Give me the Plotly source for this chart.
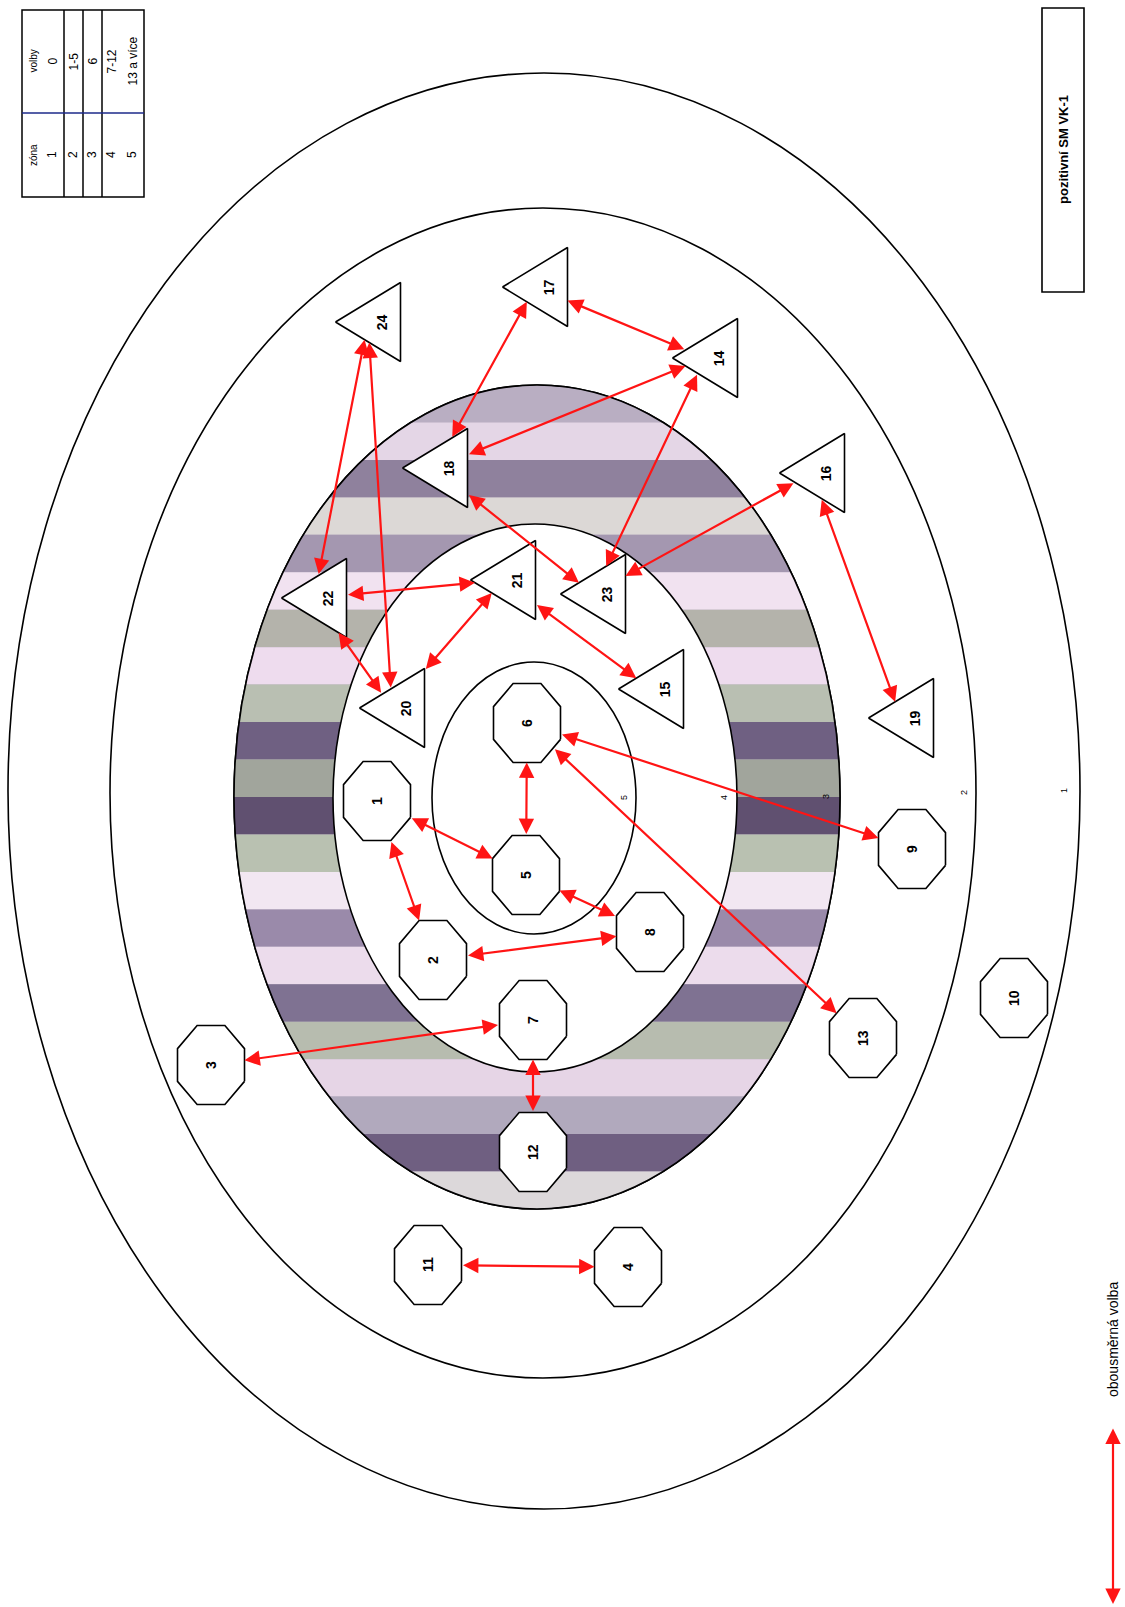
import numpy as np
import plotly.graph_objects as go

W, H = 1125, 1607

# ---------------- data ----------------
node_ids = [1, 2, 3, 4, 5, 6, 7, 8, 9, 10, 11, 12, 13,
            14, 15, 16, 17, 18, 19, 20, 21, 22, 23, 24]
node_shape = ["oct"] * 13 + ["tri"] * 11
node_x = [377, 433, 211, 628, 526, 527, 533, 650, 912, 1014, 428, 533, 863,
          705, 651, 812, 535, 435, 901, 392, 503, 314, 593, 368]
node_y = [801, 960, 1065, 1267, 875, 723, 1020, 932, 849, 998, 1265, 1152, 1038,
          358, 689, 473, 287, 468, 718, 708, 580, 598, 594, 322]

# mutual choices (obousměrné volby)
edge_a = [11, 12, 7, 2, 8, 1, 1, 5, 6, 6, 20, 20, 20, 22, 22, 21, 16, 16, 18, 18, 18, 14, 14]
edge_b = [4, 7, 3, 8, 5, 2, 5, 6, 9, 13, 21, 22, 24, 21, 24, 15, 19, 23, 23, 17, 14, 17, 23]

# zones (1 = outermost ... 5 = centre)
zone_names = ["1", "2", "3", "4", "5"]
zone_cx = [544, 543, 537, 535, 534]
zone_cy = [791, 793, 797, 798, 798]
zone_rx = [536, 433, 303, 202, 102]
zone_ry = [718, 585, 412, 274, 136]
zone_label_x = [1064, 964, 826, 724, 624]

table_zone = ["1", "2", "3", "4", "5"]
table_votes = ["0", "1-5", "6", "7-12", "13 a více"]

title_text = "pozitivní SM VK-1"
legend_text = "obousměrná volba"

# ---------------- styles ----------------
OCT_W, OCT_H = 67, 79
TRI_W, TRI_H = 65, 79
RED = "#ff1414"
FONT = "Liberation Sans, Arial, sans-serif"

ring_colors = ["#b9aec2", "#e4d6e6", "#8f819d", "#dcd8d6", "#a497b0", "#f1e2f0",
               "#b4b3ab", "#eedcee", "#b9bfb2", "#6f6082", "#a1a59c", "#605070",
               "#b9c1b1", "#f2e7f2", "#9a8aaa", "#ecdcec", "#7f7292", "#b7bcaf",
               "#e6d5e6", "#b1a9bd", "#6f5f81", "#dcd8da"]


def polygon(shape, cx, cy):
    if shape == "oct":
        a = np.deg2rad(22.5 + 45 * np.arange(8))
        xs = np.cos(a)
        ys = np.sin(a)
        xs = cx + xs * (OCT_W / 2) / np.max(np.abs(xs))
        ys = cy + ys * (OCT_H / 2) / np.max(np.abs(ys))
    else:
        xs = np.array([cx - TRI_W / 2, cx + TRI_W / 2, cx + TRI_W / 2])
        ys = np.array([cy, cy - TRI_H / 2, cy + TRI_H / 2])
    return list(xs), list(ys)


def exit_point(shape, cx, cy, tx, ty):
    xs, ys = polygon(shape, cx, cy)
    n = len(xs)
    dx, dy = tx - cx, ty - cy
    best = None
    for i in range(n):
        x1, y1 = xs[i], ys[i]
        x2, y2 = xs[(i + 1) % n], ys[(i + 1) % n]
        ex, ey = x2 - x1, y2 - y1
        den = dx * ey - dy * ex
        if abs(den) < 1e-9:
            continue
        t = ((x1 - cx) * ey - (y1 - cy) * ex) / den
        u = ((x1 - cx) * dy - (y1 - cy) * dx) / den
        if t > 0 and -1e-9 <= u <= 1 + 1e-9:
            if best is None or t < best:
                best = t
    return cx + best * dx, cy + best * dy


fig = go.Figure()
shapes = []


def ellipse_shape(i, fill):
    return dict(type="circle", xref="x", yref="y", layer="below",
                x0=zone_cx[i] - zone_rx[i], x1=zone_cx[i] + zone_rx[i],
                y0=zone_cy[i] - zone_ry[i], y1=zone_cy[i] + zone_ry[i],
                fillcolor=fill, line=dict(color="black", width=1.6))


shapes.append(ellipse_shape(0, "white"))
shapes.append(ellipse_shape(1, "white"))
shapes.append(ellipse_shape(2, "#b8adc0"))
# textured ring (zone 3): stripes clipped to the zone-3 ellipse
cx3, cy3, rx3, ry3 = zone_cx[2], zone_cy[2], zone_rx[2], zone_ry[2]
edges_y = np.linspace(cy3 - ry3, cy3 + ry3, len(ring_colors) + 1)
for j, col in enumerate(ring_colors):
    yy = np.linspace(edges_y[j], edges_y[j + 1], 12)
    half = rx3 * np.sqrt(np.clip(1 - ((yy - cy3) / ry3) ** 2, 0, 1))
    pts = [(cx3 - h, y) for h, y in zip(half, yy)] + \
          [(cx3 + h, y) for h, y in zip(half[::-1], yy[::-1])]
    path = "M " + " L ".join(f"{px:.1f},{py:.1f}" for px, py in pts) + " Z"
    shapes.append(dict(type="path", path=path, xref="x", yref="y", layer="below",
                       fillcolor=col, line=dict(width=0)))
shapes.append(ellipse_shape(2, "rgba(0,0,0,0)"))
shapes.append(ellipse_shape(3, "white"))
shapes.append(ellipse_shape(4, "white"))

annotations = []
for i, name in enumerate(zone_names):
    annotations.append(dict(x=zone_label_x[i], y=zone_cy[i], xref="x", yref="y", text=name,
                            showarrow=False, textangle=-90,
                            font=dict(family=FONT, size=9, color="black")))

# nodes
for nid, shp, x, y in zip(node_ids, node_shape, node_x, node_y):
    xs, ys = polygon(shp, x, y)
    fig.add_trace(go.Scatter(x=xs + [xs[0]], y=ys + [ys[0]], mode="lines", fill="toself",
                             fillcolor="white", line=dict(color="black", width=1.6),
                             hoverinfo="skip", showlegend=False))
    lx = x + (TRI_W * 0.22 if shp == "tri" else 0)
    annotations.append(dict(x=lx, y=y, xref="x", yref="y", text=f"<b>{nid}</b>",
                            showarrow=False, textangle=-90,
                            font=dict(family=FONT, size=14, color="black")))

# mutual-choice arrows
idx = {n: i for i, n in enumerate(node_ids)}
for a, b in zip(edge_a, edge_b):
    ia, ib = idx[a], idx[b]
    pa = exit_point(node_shape[ia], node_x[ia], node_y[ia], node_x[ib], node_y[ib])
    pb = exit_point(node_shape[ib], node_x[ib], node_y[ib], node_x[ia], node_y[ia])
    annotations.append(dict(x=pb[0], y=pb[1], ax=pa[0], ay=pa[1], xref="x", yref="y",
                            axref="x", ayref="y", text="", showarrow=True,
                            arrowhead=2, startarrowhead=2, arrowside="end+start",
                            arrowsize=1.4, startarrowsize=1.4, arrowwidth=2.2,
                            arrowcolor=RED, standoff=0, startstandoff=0))

# table (top-left), rotated
tx0, tx1, ty0, ty1, tymid = 22, 144, 10, 197, 113
col_edges = [22, 64, 83, 102, 144]
for c0 in col_edges[1:-1]:
    shapes.append(dict(type="line", xref="x", yref="y", x0=c0, x1=c0, y0=ty0, y1=ty1,
                       line=dict(color="black", width=1.5)))
shapes.append(dict(type="rect", xref="x", yref="y", x0=tx0, x1=tx1, y0=ty0, y1=ty1,
                   line=dict(color="black", width=1.5)))
shapes.append(dict(type="line", xref="x", yref="y", x0=tx0, x1=tx1, y0=tymid, y1=tymid,
                   line=dict(color="#1c2a8a", width=1.6)))
head_x = 33
row_x = [52, 73, 92, 111, 132]
TF = dict(family=FONT, color="black")
annotations.append(dict(x=head_x, y=(tymid + ty1) / 2, xref="x", yref="y", text="zóna",
                        showarrow=False, textangle=-90, font=dict(TF, size=10)))
annotations.append(dict(x=head_x, y=(ty0 + tymid) / 2, xref="x", yref="y", text="volby",
                        showarrow=False, textangle=-90, font=dict(TF, size=10)))
for rx_, z, v in zip(row_x, table_zone, table_votes):
    annotations.append(dict(x=rx_, y=(tymid + ty1) / 2, xref="x", yref="y", text=z,
                            showarrow=False, textangle=-90, font=dict(TF, size=12)))
    annotations.append(dict(x=rx_, y=(ty0 + tymid) / 2, xref="x", yref="y", text=v,
                            showarrow=False, textangle=-90, font=dict(TF, size=12)))

# title box (top-right)
shapes.append(dict(type="rect", xref="x", yref="y", x0=1042, x1=1084, y0=8, y1=292,
                   line=dict(color="black", width=1.6)))
annotations.append(dict(x=1063, y=150, xref="x", yref="y", text=f"<b>{title_text}</b>",
                        showarrow=False, textangle=-90,
                        font=dict(family=FONT, size=13, color="black")))

# legend (bottom-right)
annotations.append(dict(x=1113, y=1604, ax=1113, ay=1427, xref="x", yref="y", axref="x",
                        ayref="y", text="", showarrow=True, arrowhead=2, startarrowhead=2,
                        arrowside="end+start", arrowsize=1.4, startarrowsize=1.4,
                        arrowwidth=2.2, arrowcolor=RED, standoff=0, startstandoff=0))
annotations.append(dict(x=1113, y=1340, xref="x", yref="y", text=legend_text, showarrow=False,
                        textangle=-90, font=dict(family=FONT, size=14, color="black")))

fig.update_layout(
    width=W, height=H, margin=dict(l=0, r=0, t=0, b=0),
    paper_bgcolor="white", plot_bgcolor="white",
    font=dict(family=FONT, color="black"),
    xaxis=dict(range=[0, W], visible=False, fixedrange=True),
    yaxis=dict(range=[H, 0], visible=False, fixedrange=True),
    shapes=shapes, annotations=annotations, showlegend=False,
)

fig.write_html("out.html", config={"displayModeBar": False},
               post_script="document.body.style.margin='0px';")
